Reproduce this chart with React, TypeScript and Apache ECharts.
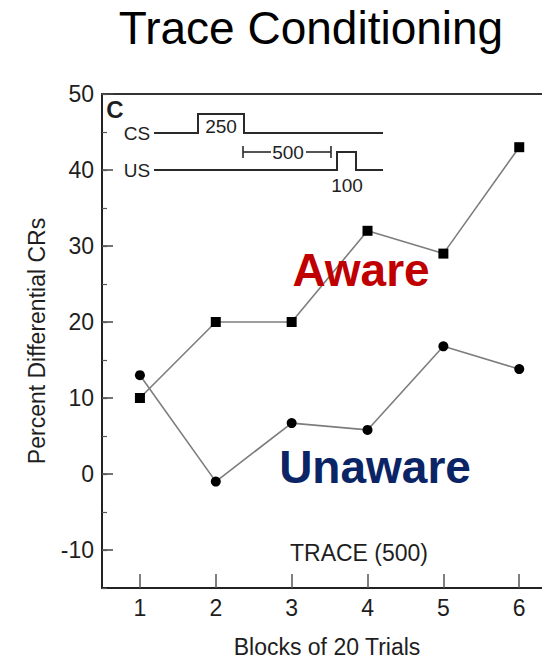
import React, { useEffect, useRef } from "react";
import * as echarts from "echarts";

const BLOCKS = [1, 2, 3, 4, 5, 6];
const AWARE = [10, 20, 20, 32, 29, 43];
const UNAWARE = [13, -1, 6.7, 5.8, 16.8, 13.8];
const Y_TICKS = [-10, 0, 10, 20, 30, 40, 50];
const TITLE = "Trace Conditioning";
const X_NAME = "Blocks of 20 Trials";
const Y_NAME = "Percent Differential CRs";

const FONT = "'Liberation Sans', Arial, Helvetica, sans-serif";
const INK = "#1e1e1e";

export default function App() {
  const ref = useRef<HTMLDivElement>(null);
  useEffect(() => {
    if (!ref.current) return;
    const chart = echarts.init(ref.current, undefined, { renderer: "svg" });
    const txt = (text: string, x: number, y: number, size: number, extra: any = {}) => ({
      type: "text",
      x,
      y,
      z: 100,
      style: {
        text,
        fontSize: size,
        fontFamily: FONT,
        fill: INK,
        align: "center",
        verticalAlign: "middle",
        ...extra,
      },
    });
    const line = (points: number[][], w = 2) => ({
      type: "polyline",
      z: 100,
      shape: { points },
      style: { stroke: "#2a2a2a", lineWidth: w, fill: "none" },
    });
    chart.setOption({
      animation: false,
      backgroundColor: "#fff",
      grid: { left: 102, right: 0, top: 94, bottom: 73, containLabel: false, outerBoundsMode: "none" },
      xAxis: [
        {
          type: "value",
          position: "bottom",
          min: 0.5,
          max: 6.3,
          axisLine: { onZero: false, lineStyle: { color: "#222", width: 2 } },
          axisTick: { inside: true, length: 14, customValues: BLOCKS, lineStyle: { color: "#555", width: 1.5 } },
          axisLabel: { customValues: BLOCKS, fontSize: 23, margin: 8, color: INK, fontFamily: FONT },
          splitLine: { show: false },
          name: X_NAME,
          nameLocation: "middle",
          nameGap: 47,
          nameTextStyle: { fontSize: 23, color: INK, fontFamily: FONT, padding: [0, 0, 0, 10] },
        },
        {
          type: "value",
          position: "top",
          min: 0.5,
          max: 6.3,
          axisLine: { show: true, onZero: false, lineStyle: { color: "#333", width: 2 } },
          axisTick: { show: false },
          axisLabel: { show: false },
          splitLine: { show: false },
        },
      ],
      yAxis: [
        {
          type: "value",
          position: "left",
          min: -15,
          max: 50,
          axisLine: { show: true, onZero: false, lineStyle: { color: "#222", width: 2 } },
          axisTick: { inside: true, length: 11, customValues: Y_TICKS, lineStyle: { color: "#444", width: 1.5 } },
          axisLabel: { customValues: Y_TICKS, fontSize: 23, margin: 8, color: INK, fontFamily: FONT },
          splitLine: { show: false },
          name: Y_NAME,
          nameLocation: "middle",
          nameGap: 54,
          nameTextStyle: { fontSize: 23, color: INK, fontFamily: FONT },
        },
        {
          type: "value",
          position: "left",
          min: -15,
          max: 50,
          interval: 5,
          axisLine: { show: false, onZero: false },
          axisTick: { inside: true, length: 5, lineStyle: { color: "#555", width: 1.2 } },
          axisLabel: { show: false },
          splitLine: { show: false },
        },
      ],
      series: [
        {
          name: "Aware",
          type: "line",
          data: BLOCKS.map((b, i) => [b, AWARE[i]]),
          symbol: "rect",
          symbolSize: 10,
          lineStyle: { color: "#7d7d7d", width: 1.6 },
          itemStyle: { color: "#000" },
        },
        {
          name: "Unaware",
          type: "line",
          data: BLOCKS.map((b, i) => [b, UNAWARE[i]]),
          symbol: "circle",
          symbolSize: 10,
          lineStyle: { color: "#7d7d7d", width: 1.6 },
          itemStyle: { color: "#000" },
        },
      ],
      graphic: [
        txt(TITLE, 311, 28, 46, { fill: "#000" }),
        txt("Aware", 361, 270, 46, { fill: "#c00000", fontWeight: "bold" }),
        txt("Unaware", 375, 467, 46, { fill: "#0b2466", fontWeight: "bold" }),
        txt("TRACE (500)", 359, 553, 23),
        txt("C", 115, 109, 24, { fontWeight: "bold" }),
        txt("CS", 137, 133, 19, {}),
        txt("US", 137, 170, 19, {}),
        txt("250", 221, 126, 19, {}),
        txt("500", 288, 152, 19, {}),
        txt("100", 347, 185, 19, {}),
        line([[154, 133], [198, 133], [198, 114], [244, 114], [244, 133], [383, 133]]),
        line([[154, 170], [337, 170], [337, 152], [356, 152], [356, 170], [383, 170]]),
        line([[243, 152], [271, 152]], 1.6),
        line([[306, 152], [331, 152]], 1.6),
        line([[243, 146], [243, 158]], 1.6),
        line([[331, 146], [331, 158]], 1.6),
      ],
    });
    return () => chart.dispose();
  }, []);
  return (
    <div
      ref={ref}
      style={{ position: "fixed", left: 0, top: 0, width: 542, height: 661, background: "#fff" }}
    />
  );
}
